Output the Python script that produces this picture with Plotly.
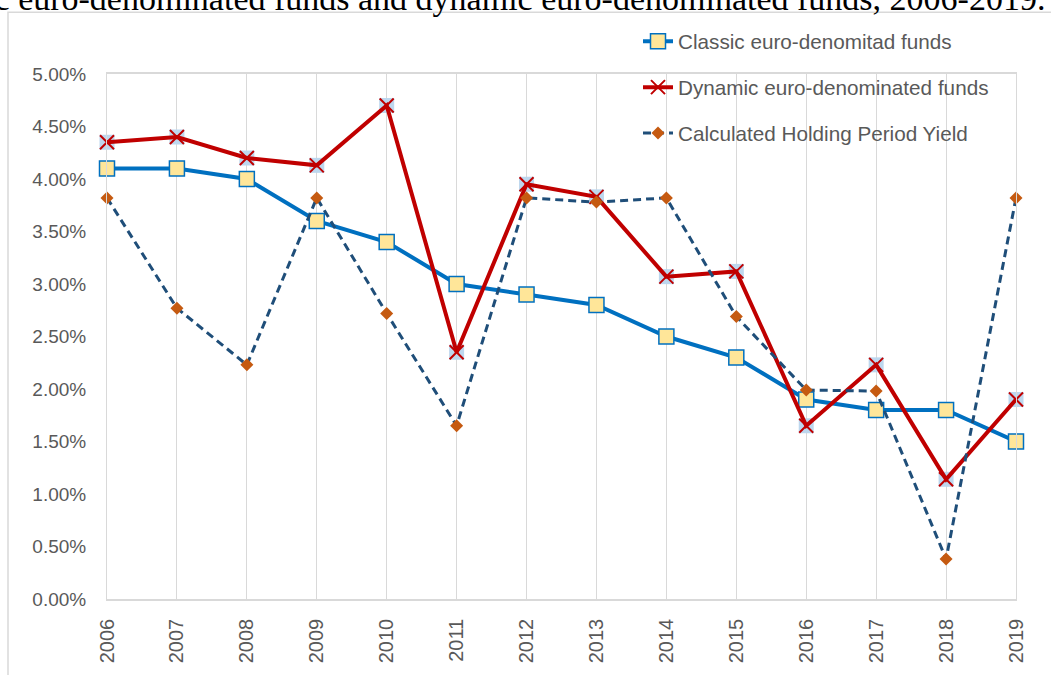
import plotly.graph_objects as go

years = ["2006", "2007", "2008", "2009", "2010", "2011", "2012", "2013", "2014", "2015", "2016", "2017", "2018", "2019"]
classic = [4.10, 4.10, 4.00, 3.60, 3.40, 3.00, 2.90, 2.80, 2.50, 2.30, 1.90, 1.80, 1.80, 1.50]
dynamic = [4.35, 4.40, 4.20, 4.13, 4.70, 2.35, 3.95, 3.83, 3.07, 3.12, 1.65, 2.23, 1.14, 1.90]
hpy = [3.82, 2.77, 2.23, 3.82, 2.72, 1.65, 3.82, 3.78, 3.82, 2.69, 1.99, 1.98, 0.38, 3.82]
y_ticks = [0, 0.5, 1.0, 1.5, 2.0, 2.5, 3.0, 3.5, 4.0, 4.5, 5.0]
y_labels = [f"{v:.2f}%" for v in y_ticks]

W, H = 1051, 675
L, R, T, B = 107, 35, 74, 73
pw, ph = W - L - R, H - T - B

def px_x(p):
    return (p - L) / pw

def px_y(p):
    return (H - B - p) / ph

fig = go.Figure()

fig.add_trace(go.Scatter(
    x=years, y=classic, name="Classic euro-denomitad funds", mode="lines+markers",
    line=dict(color="#0070C0", width=4),
    marker=dict(symbol="square", size=15, color="#FFE699", line=dict(color="#0070C0", width=1.5)),
    legendgroup="a", cliponaxis=False,
))
fig.add_trace(go.Scatter(
    x=years, y=dynamic, mode="markers", showlegend=False, legendgroup="b",
    marker=dict(symbol="square", size=15, color="#BDD7EE", line=dict(width=0)),
    cliponaxis=False,
))
fig.add_trace(go.Scatter(
    x=years, y=dynamic, name="Dynamic euro-denominated funds", mode="lines+markers",
    line=dict(color="#C00000", width=4),
    marker=dict(symbol="x-thin", size=14, color="#C00000", line=dict(color="#C00000", width=2)),
    legendgroup="b", cliponaxis=False,
))
fig.add_trace(go.Scatter(
    x=years, y=hpy, name="Calculated Holding Period Yield", mode="lines+markers",
    line=dict(color="#1F4E79", width=3, dash="8px,5px"),
    marker=dict(symbol="diamond", size=10, color="#C55A11"),
    legendgroup="c", cliponaxis=False,
))

# outer chart frame
fig.add_shape(type="rect", xref="paper", yref="paper",
              x0=px_x(8), x1=px_x(1070), y0=px_y(690), y1=px_y(12),
              line=dict(color="#D9D9D9", width=1.5), layer="below")

fig.add_annotation(
    text="classic euro-denominated funds and dynamic euro-denominated funds, 2006-2019.",
    xref="paper", yref="paper", x=px_x(1047), y=px_y(-2), xanchor="right", yanchor="middle",
    showarrow=False, font=dict(family="Liberation Serif", size=34, color="#000000"),
)

fig.update_layout(
    width=W, height=H,
    margin=dict(l=L, r=R, t=T, b=B),
    paper_bgcolor="white", plot_bgcolor="white",
    font=dict(family="Liberation Sans", color="#595959", size=18),
    showlegend=True,
    legend=dict(x=px_x(638), y=px_y(21), xanchor="left", yanchor="top",
                font=dict(size=20.7, color="#595959"), bgcolor="rgba(255,255,255,0)",
                tracegroupgap=16),
    xaxis=dict(type="category", range=[0, 13], showgrid=True, gridcolor="#D9D9D9", gridwidth=1,
               showline=True, linecolor="#D9D9D9", linewidth=1.5, mirror=True,
               tickangle=-90, ticks="", ticklabelstandoff=10,
               tickfont=dict(size=20, color="#595959"), zeroline=False),
    yaxis=dict(range=[0, 5], tickvals=y_ticks, ticktext=y_labels,
               showgrid=False, showline=True, linecolor="#D9D9D9", linewidth=1, mirror=True,
               ticks="", ticklabelstandoff=16, zeroline=False,
               tickfont=dict(size=19, color="#595959")),
)

fig.write_html("out.html", config={"displayModeBar": False},
               post_script="document.body.style.margin='0px';")
